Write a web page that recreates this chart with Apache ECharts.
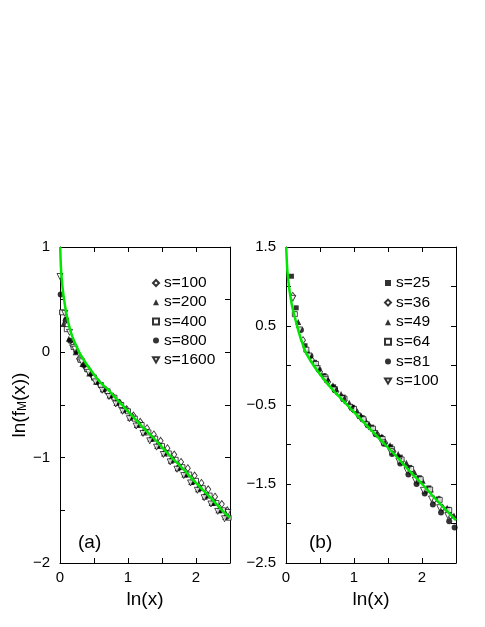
<!DOCTYPE html>
<html><head><meta charset="utf-8">
<script src="https://cdn.jsdelivr.net/npm/echarts@6/dist/echarts.min.js"></script>
<style>html,body{margin:0;padding:0;background:#fff}#c{width:485px;height:627px}</style>
</head><body><div id="c"></div>
<script>
// ---------- Panel (a) data ----------
const namesA = ['s=100', 's=200', 's=400', 's=800', 's=1600'];
const xa100 = [0.08, 0.18, 0.28, 0.38, 0.48, 0.58, 0.68, 0.78, 0.88, 0.98, 1.08, 1.18, 1.28, 1.38, 1.48, 1.58, 1.68, 1.78, 1.88, 1.98, 2.08, 2.18, 2.28, 2.38, 2.46];
const ya100 = [0.30, 0.07, -0.06, -0.15, -0.23, -0.30, -0.36, -0.42, -0.48, -0.54, -0.60, -0.66, -0.72, -0.78, -0.84, -0.91, -0.97, -1.04, -1.10, -1.17, -1.24, -1.30, -1.37, -1.44, -1.50];
const xa200 = [0.05, 0.13, 0.23, 0.33, 0.43, 0.53, 0.63, 0.73, 0.83, 0.93, 1.03, 1.13, 1.23, 1.33, 1.43, 1.53, 1.63, 1.73, 1.83, 1.93, 2.03, 2.13, 2.23, 2.33, 2.43];
const ya200 = [0.27, 0.13, 0.00, -0.11, -0.20, -0.28, -0.35, -0.41, -0.48, -0.55, -0.62, -0.69, -0.76, -0.82, -0.89, -0.96, -1.03, -1.10, -1.16, -1.23, -1.30, -1.37, -1.43, -1.50, -1.56];
const xa400 = [0.03, 0.10, 0.20, 0.30, 0.40, 0.50, 0.60, 0.70, 0.80, 0.90, 1.00, 1.10, 1.20, 1.30, 1.40, 1.50, 1.60, 1.70, 1.80, 1.90, 2.00, 2.10, 2.20, 2.30, 2.40, 2.48];
const ya400 = [0.38, 0.22, 0.05, -0.07, -0.16, -0.24, -0.31, -0.37, -0.43, -0.50, -0.56, -0.63, -0.69, -0.76, -0.82, -0.89, -0.96, -1.02, -1.09, -1.16, -1.22, -1.29, -1.36, -1.43, -1.50, -1.57];
const xa800 = [0.01, 0.09, 0.15, 0.24, 0.35, 0.45, 0.55, 0.65, 0.75, 0.85, 0.95, 1.05, 1.15, 1.25, 1.35, 1.45, 1.55, 1.65, 1.75, 1.85, 1.95, 2.05, 2.15, 2.25, 2.35, 2.45];
const ya800 = [0.55, 0.31, 0.11, 0.01, -0.12, -0.20, -0.28, -0.35, -0.41, -0.47, -0.54, -0.61, -0.68, -0.75, -0.82, -0.88, -0.95, -1.02, -1.09, -1.16, -1.23, -1.29, -1.36, -1.43, -1.50, -1.56];
const xa1600 = [0.00, 0.07, 0.14, 0.22, 0.32, 0.42, 0.52, 0.62, 0.72, 0.82, 0.92, 1.02, 1.12, 1.22, 1.32, 1.42, 1.52, 1.62, 1.72, 1.82, 1.92, 2.02, 2.12, 2.22, 2.32, 2.42, 2.47];
const ya1600 = [0.72, 0.37, 0.19, 0.03, -0.09, -0.19, -0.28, -0.36, -0.42, -0.49, -0.56, -0.63, -0.70, -0.77, -0.84, -0.90, -0.97, -1.04, -1.11, -1.17, -1.24, -1.31, -1.38, -1.44, -1.51, -1.58, -1.52];
const curveAX = [0.003, 0.01, 0.02, 0.04, 0.06, 0.09, 0.12, 0.16, 0.2, 0.3, 0.4, 0.5, 0.6, 0.7, 0.8, 0.9, 1.0, 1.2, 1.4, 1.6, 1.8, 2.0, 2.2, 2.4, 2.5];
const curveAY = [1.0, 0.86, 0.74, 0.60, 0.50, 0.38, 0.29, 0.19, 0.12, -0.02, -0.12, -0.21, -0.29, -0.35, -0.42, -0.49, -0.56, -0.70, -0.83, -0.97, -1.10, -1.24, -1.37, -1.51, -1.57];

// ---------- Panel (b) data ----------
const namesB = ['s=25', 's=36', 's=49', 's=64', 's=81', 's=100'];
const xb25 = [0.08, 0.15, 0.28, 0.42, 0.56, 0.70, 0.84, 0.98, 1.12, 1.26, 1.40, 1.54, 1.68, 1.82, 1.96, 2.10, 2.24, 2.38];
const yb25 = [1.13, 0.73, 0.25, 0.04, -0.13, -0.27, -0.40, -0.53, -0.66, -0.78, -0.91, -1.03, -1.16, -1.29, -1.42, -1.55, -1.69, -1.82];
const xb36 = [0.10, 0.25, 0.38, 0.50, 0.62, 0.74, 0.86, 0.98, 1.10, 1.22, 1.34, 1.46, 1.58, 1.70, 1.82, 1.94, 2.06, 2.18, 2.30, 2.42];
const yb36 = [0.88, 0.32, 0.07, -0.08, -0.21, -0.33, -0.44, -0.55, -0.66, -0.77, -0.87, -0.98, -1.09, -1.21, -1.33, -1.46, -1.58, -1.70, -1.80, -1.90];
const xb49 = [0.18, 0.32, 0.45, 0.57, 0.69, 0.81, 0.93, 1.05, 1.17, 1.29, 1.41, 1.53, 1.65, 1.77, 1.89, 2.01, 2.13, 2.25, 2.37, 2.47];
const yb49 = [0.55, 0.18, 0.01, -0.13, -0.25, -0.36, -0.47, -0.58, -0.69, -0.80, -0.90, -1.01, -1.12, -1.23, -1.35, -1.46, -1.57, -1.68, -1.80, -1.90];
const xb64 = [0.13, 0.30, 0.44, 0.58, 0.72, 0.86, 1.00, 1.14, 1.28, 1.42, 1.56, 1.70, 1.84, 1.98, 2.12, 2.26, 2.40];
const yb64 = [0.65, 0.20, 0.02, -0.15, -0.30, -0.42, -0.55, -0.68, -0.80, -0.93, -1.06, -1.19, -1.31, -1.44, -1.57, -1.70, -1.83];
const xb81 = [0.22, 0.36, 0.48, 0.60, 0.72, 0.84, 0.96, 1.08, 1.20, 1.32, 1.44, 1.56, 1.68, 1.80, 1.92, 2.04, 2.16, 2.28, 2.40, 2.48];
const yb81 = [0.45, 0.12, -0.05, -0.19, -0.31, -0.42, -0.53, -0.64, -0.75, -0.87, -0.99, -1.12, -1.24, -1.38, -1.50, -1.62, -1.76, -1.86, -1.97, -2.05];
const xb100 = [0.10, 0.20, 0.34, 0.46, 0.58, 0.70, 0.82, 0.94, 1.06, 1.18, 1.30, 1.42, 1.54, 1.66, 1.78, 1.90, 2.02, 2.14, 2.26, 2.38];
const yb100 = [0.85, 0.45, 0.12, -0.04, -0.18, -0.31, -0.42, -0.53, -0.64, -0.75, -0.86, -0.98, -1.09, -1.21, -1.33, -1.45, -1.58, -1.69, -1.80, -1.90];
const curveBX = [0.003, 0.01, 0.02, 0.04, 0.06, 0.09, 0.13, 0.17, 0.21, 0.25, 0.3, 0.4, 0.5, 0.6, 0.7, 0.8, 0.9, 1.0, 1.2, 1.4, 1.6, 1.8, 2.0, 2.2, 2.4, 2.5];
const curveBY = [1.5, 1.36, 1.2, 1.03, 0.90, 0.75, 0.61, 0.48, 0.36, 0.26, 0.15, 0.01, -0.11, -0.22, -0.32, -0.41, -0.50, -0.59, -0.77, -0.95, -1.13, -1.32, -1.50, -1.69, -1.87, -1.96];

// ---------- styling ----------
const FONT = '"Liberation Sans", Arial, Helvetica, sans-serif';
const GREEN = '#00e600';
const pairs = (xs, ys) => xs.map((x, i) => [x, ys[i]]);
const fmtNum = v => String(v).replace('-', '\u2212');
const isInt = v => Math.abs(v - Math.round(v)) < 1e-6;
const isHalf = v => Math.abs(Math.abs(v - Math.floor(v)) - 0.5) < 1e-6;
// series in panel (b) get a prefix so the two legends do not share the name "s=100"
const keyA = n => 'a:' + n, keyB = n => 'b:' + n;

const OPEN = { color: '#fff', borderColor: '#000', borderWidth: 0.9 };
const FILL = { color: '#000', borderColor: '#000', borderWidth: 0 };
const DOWN = 'path://M0,0L2,0L1,1.732Z';

function xAxes(grid) {
  const base = {
    type: 'value', gridIndex: grid, min: 0, max: 2.5, interval: 0.5,
    axisLine: { show: true, onZero: false, lineStyle: { color: '#000', width: 1 } },
    axisTick: { show: true, inside: true, length: 5, lineStyle: { color: '#000', width: 1 } },
    splitLine: { show: false }
  };
  return [
    Object.assign({}, base, {
      position: 'bottom', name: 'ln(x)', nameLocation: 'middle', nameGap: 21,
      nameTextStyle: { fontFamily: FONT, fontSize: 19, color: '#000' },
      axisLabel: { show: true, margin: 7, fontFamily: FONT, fontSize: 15, color: '#000',
        showMinLabel: true, showMaxLabel: true,
        formatter: v => isInt(v) ? fmtNum(v) : '' }
    }),
    Object.assign({}, base, { position: 'top', axisLabel: { show: false } })
  ];
}
function yAxes(grid, min, max, labelTest, withName) {
  const base = {
    type: 'value', gridIndex: grid, min: min, max: max, interval: 0.5,
    axisLine: { show: true, onZero: false, lineStyle: { color: '#000', width: 1 } },
    axisTick: { show: true, inside: true, length: 5, lineStyle: { color: '#000', width: 1 } },
    splitLine: { show: false }
  };
  const left = Object.assign({}, base, {
    position: 'left',
    axisLabel: { show: true, margin: 10, fontFamily: FONT, fontSize: 15, color: '#000',
      showMinLabel: true, showMaxLabel: true,
      formatter: v => labelTest(v) ? fmtNum(v) : '' }
  });
  if (withName) {
    Object.assign(left, {
      name: '{a|ln(f}{s|M}{a|(x))}', nameLocation: 'middle', nameGap: 30, nameRotate: 90,
      nameTextStyle: { fontFamily: FONT, color: '#000',
        rich: {
          a: { fontFamily: FONT, fontSize: 19, lineHeight: 22, color: '#000', verticalAlign: 'bottom' },
          s: { fontFamily: FONT, fontSize: 12, lineHeight: 16, color: '#000', verticalAlign: 'bottom' }
        } }
    });
  }
  return [left, Object.assign({}, base, { position: 'right', axisLabel: { show: false } })];
}

function scatter(name, xs, ys, xi, yi, symbol, size, style) {
  return { type: 'scatter', name: name, xAxisIndex: xi, yAxisIndex: yi,
    data: pairs(xs, ys), symbol: symbol, symbolSize: size, itemStyle: style,
    z: 2, emphasis: { disabled: true }, silent: true };
}

const xa = xAxes(0), xb = xAxes(1);
const ya = yAxes(0, -2, 1, isInt, true), yb = yAxes(1, -2.5, 1.5, isHalf, false);
const legendText = { fontFamily: FONT, fontSize: 15.5, lineHeight: 16, color: '#000' };

const option = {
  animation: false,
  backgroundColor: '#fff',
  textStyle: { fontFamily: FONT },
  grid: [
    { left: 60, top: 247, width: 170, height: 316, containLabel: false },
    { left: 286, top: 247, width: 170, height: 316, containLabel: false }
  ],
  xAxis: [xa[0], xa[1], xb[0], xb[1]],
  yAxis: [ya[0], ya[1], yb[0], yb[1]],
  legend: [
    { data: namesA.map(keyA), formatter: n => n.slice(2), orient: 'vertical', left: 147, top: 270,
      itemWidth: 6, itemHeight: 6, itemGap: 3.2, selectedMode: false, textStyle: legendText },
    { data: namesB.map(keyB), formatter: n => n.slice(2), orient: 'vertical', left: 379, top: 270,
      itemWidth: 6, itemHeight: 6, itemGap: 3.6, selectedMode: false, textStyle: legendText }
  ],
  graphic: [
    { type: 'text', left: 78, top: 533, style: { text: '(a)', font: '19px ' + FONT, fill: '#000' } },
    { type: 'text', left: 309, top: 533, style: { text: '(b)', font: '19px ' + FONT, fill: '#000' } }
  ],
  series: [
    scatter(keyA('s=100'), xa100, ya100, 0, 0, 'diamond', [5, 7], OPEN),
    scatter(keyA('s=200'), xa200, ya200, 0, 0, 'triangle', 6, FILL),
    scatter(keyA('s=400'), xa400, ya400, 0, 0, 'rect', 5, OPEN),
    scatter(keyA('s=800'), xa800, ya800, 0, 0, 'circle', 6, FILL),
    scatter(keyA('s=1600'), xa1600, ya1600, 0, 0, DOWN, 6, OPEN),
    { type: 'line', name: 'fitA', xAxisIndex: 0, yAxisIndex: 0, data: pairs(curveAX, curveAY),
      showSymbol: false, smooth: 0.3, lineStyle: { color: GREEN, width: 2.5 }, z: 5, silent: true },

    scatter(keyB('s=25'), xb25, yb25, 2, 2, 'rect', 5, FILL),
    scatter(keyB('s=36'), xb36, yb36, 2, 2, 'diamond', [5, 7], OPEN),
    scatter(keyB('s=49'), xb49, yb49, 2, 2, 'triangle', 6, FILL),
    scatter(keyB('s=64'), xb64, yb64, 2, 2, 'rect', 5, OPEN),
    scatter(keyB('s=81'), xb81, yb81, 2, 2, 'circle', 6, FILL),
    scatter(keyB('s=100'), xb100, yb100, 2, 2, DOWN, 6, OPEN),
    { type: 'line', name: 'fitB', xAxisIndex: 2, yAxisIndex: 2, data: pairs(curveBX, curveBY),
      showSymbol: false, smooth: 0.3, lineStyle: { color: GREEN, width: 2.5 }, z: 5, silent: true }
  ]
};
const chart = echarts.init(document.getElementById('c'), null, { renderer: 'canvas' });
chart.setOption(option);
</script>
</body></html>
